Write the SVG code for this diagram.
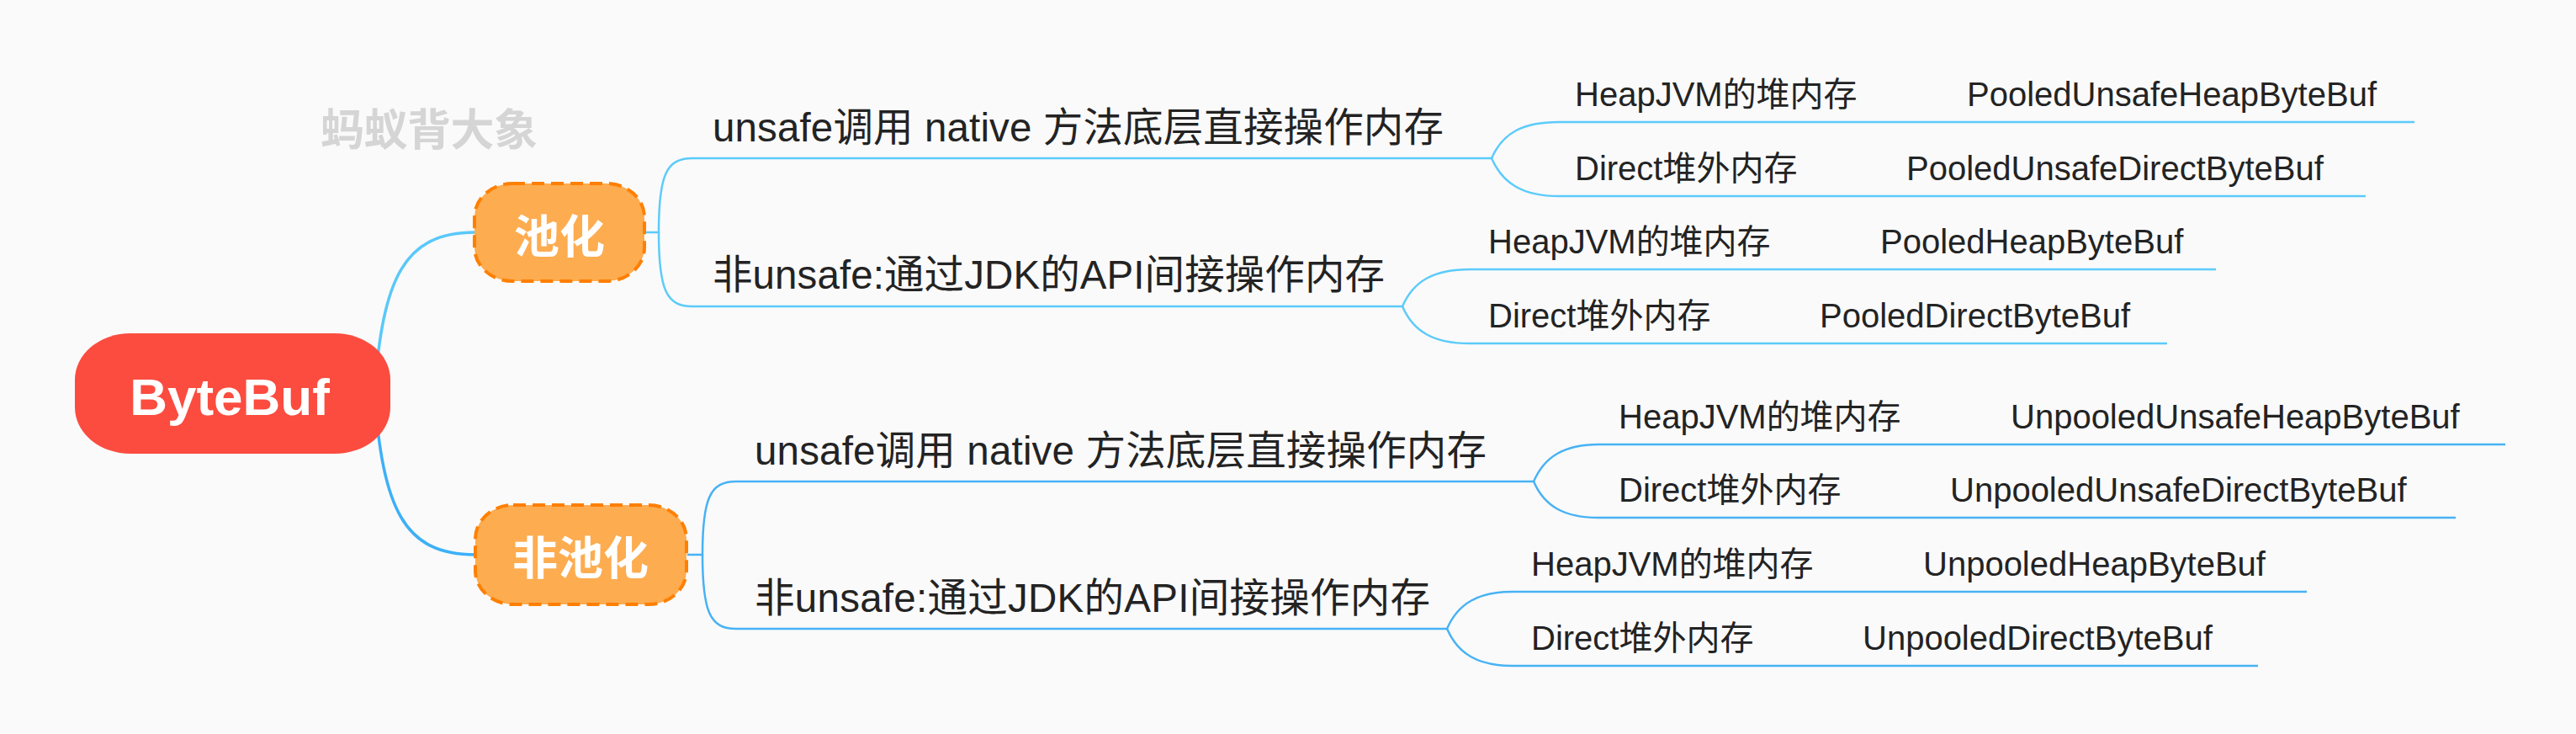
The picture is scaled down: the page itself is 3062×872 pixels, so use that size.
<svg xmlns="http://www.w3.org/2000/svg" width="3062" height="872" viewBox="0 0 3062 872">
<style>
.t{font-family:"Liberation Sans","Noto Sans CJK SC",sans-serif;fill:#232323}
.l2{font-size:47.5px}
.l3{font-size:40px}
.cp{fill:none;stroke:#5ccbfb;stroke-width:2.5}
.cu{fill:none;stroke:#47b2f5;stroke-width:2.5}
.sub{fill:#fdac50;stroke:#ff7f00;stroke-width:4;stroke-dasharray:15 8}
.st{font-family:"Noto Sans CJK SC","Liberation Sans",sans-serif;font-weight:bold;font-size:54px;fill:#fff;text-anchor:middle}
</style>
<rect width="3062" height="872" fill="#fafafa"/>
<text x="381" y="173" font-family="Noto Sans CJK SC,Liberation Sans,sans-serif" font-weight="bold" font-size="52" fill="#d5d5d5" textLength="258">蚂蚁背大象</text>
<g id="connectors">
<path d="M445 467 C455 330 480 276 565 276" fill="none" stroke="#5ac8fa" stroke-width="3.5"/>
<path d="M445 467 C455 605 480 659 565 659" fill="none" stroke="#3db0f7" stroke-width="3.5"/>
<path class="cp" d="M767 276 H783 C783 208 792 188 823 188"/>
<path class="cp" d="M783 276 C783 344 792 364 823 364"/>
<path class="cu" d="M817 659 H835 C835 592 844 572 875 572"/>
<path class="cu" d="M835 659 C835 727 844 747 875 747"/>
<path class="cp" d="M1773 188 C1786 158 1810 145 1853 145"/>
<path class="cp" d="M1773 188 C1786 218 1810 233 1853 233"/>
<path class="cp" d="M1667 364 C1680 334 1704 320 1747 320"/>
<path class="cp" d="M1667 364 C1680 394 1704 408 1747 408"/>
<path class="cu" d="M1823 572 C1836 542 1860 528 1900 528"/>
<path class="cu" d="M1823 572 C1836 602 1860 615 1900 615"/>
<path class="cu" d="M1720 747 C1733 717 1757 703 1798 703"/>
<path class="cu" d="M1720 747 C1733 777 1757 791 1798 791"/>
<path class="cp" d="M2236 145 H2336 M2164 233 H2264 M2133 320 H2233 M2061 408 H2161"/>
<path class="cu" d="M2288 528 H2388 M2216 615 H2316 M2184 703 H2284 M2112 791 H2212"/>
</g>
<g id="root">
<rect x="89" y="396" width="375" height="143" rx="66" ry="55" fill="#fb4c3f"/>
<text x="273" y="493" font-family="Liberation Sans,Arial,sans-serif" font-weight="bold" font-size="62" fill="#fff" text-anchor="middle">ByteBuf</text>
</g>
<g id="pooled">
<rect class="sub" x="564" y="218" width="202" height="116" rx="45" ry="40"/>
<text class="st" x="665" y="301">池化</text>
</g>
<g id="unpooled">
<rect class="sub" x="565" y="600" width="251" height="118" rx="45" ry="40"/>
<text class="st" x="690" y="683">非池化</text>
</g>
<g id="p-unsafe">
<path class="cp" d="M823 188 H1773"/>
<text class="t l2" x="847" y="168" textLength="869">unsafe调用 native 方法底层直接操作内存</text>
</g>
<g id="p-safe">
<path class="cp" d="M823 364 H1667"/>
<text class="t l2" x="847" y="343" textLength="799">非unsafe:通过JDK的API间接操作内存</text>
</g>
<g id="u-unsafe">
<path class="cu" d="M875 572 H1823"/>
<text class="t l2" x="897" y="552" textLength="870">unsafe调用 native 方法底层直接操作内存</text>
</g>
<g id="u-safe">
<path class="cu" d="M875 747 H1720"/>
<text class="t l2" x="897" y="727" textLength="803">非unsafe:通过JDK的API间接操作内存</text>
</g>
<g id="p1-heap"><path class="cp" d="M1853 145 H2236"/><text class="t l3" x="1872" y="126">HeapJVM的堆内存</text></g>
<g id="p1-heap-cls"><path class="cp" d="M2336 145 H2870"/><text class="t l3" x="2338" y="126">PooledUnsafeHeapByteBuf</text></g>
<g id="p1-direct"><path class="cp" d="M1853 233 H2164"/><text class="t l3" x="1872" y="214">Direct堆外内存</text></g>
<g id="p1-direct-cls"><path class="cp" d="M2264 233 H2812"/><text class="t l3" x="2266" y="214">PooledUnsafeDirectByteBuf</text></g>
<g id="p2-heap"><path class="cp" d="M1747 320 H2133"/><text class="t l3" x="1769" y="301">HeapJVM的堆内存</text></g>
<g id="p2-heap-cls"><path class="cp" d="M2233 320 H2634"/><text class="t l3" x="2235" y="301">PooledHeapByteBuf</text></g>
<g id="p2-direct"><path class="cp" d="M1747 408 H2061"/><text class="t l3" x="1769" y="389">Direct堆外内存</text></g>
<g id="p2-direct-cls"><path class="cp" d="M2161 408 H2576"/><text class="t l3" x="2163" y="389">PooledDirectByteBuf</text></g>
<g id="u1-heap"><path class="cu" d="M1900 528 H2288"/><text class="t l3" x="1924" y="509">HeapJVM的堆内存</text></g>
<g id="u1-heap-cls"><path class="cu" d="M2388 528 H2978"/><text class="t l3" x="2390" y="509">UnpooledUnsafeHeapByteBuf</text></g>
<g id="u1-direct"><path class="cu" d="M1900 615 H2216"/><text class="t l3" x="1924" y="596">Direct堆外内存</text></g>
<g id="u1-direct-cls"><path class="cu" d="M2316 615 H2919"/><text class="t l3" x="2318" y="596">UnpooledUnsafeDirectByteBuf</text></g>
<g id="u2-heap"><path class="cu" d="M1798 703 H2184"/><text class="t l3" x="1820" y="684">HeapJVM的堆内存</text></g>
<g id="u2-heap-cls"><path class="cu" d="M2284 703 H2742"/><text class="t l3" x="2286" y="684">UnpooledHeapByteBuf</text></g>
<g id="u2-direct"><path class="cu" d="M1798 791 H2112"/><text class="t l3" x="1820" y="772">Direct堆外内存</text></g>
<g id="u2-direct-cls"><path class="cu" d="M2212 791 H2684"/><text class="t l3" x="2214" y="772">UnpooledDirectByteBuf</text></g>
</svg>
